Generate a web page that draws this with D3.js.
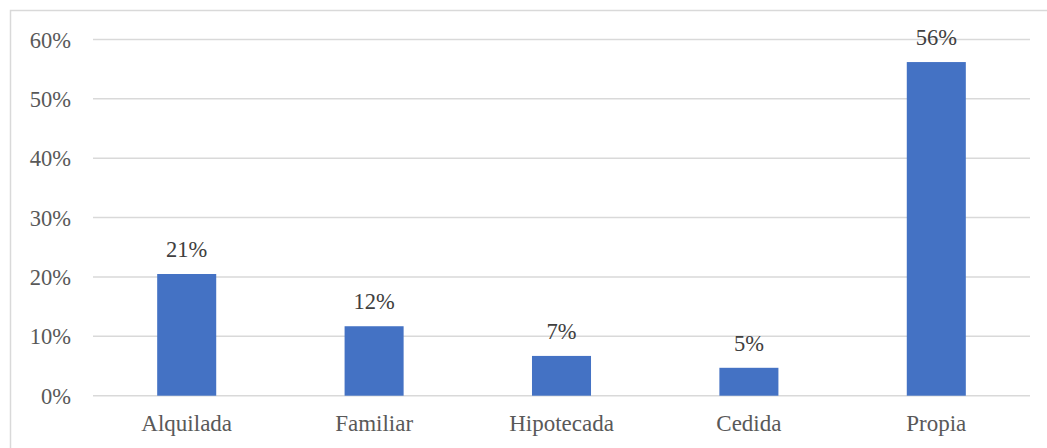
<!DOCTYPE html>
<html>
<head>
<meta charset="utf-8">
<script src="https://cdn.jsdelivr.net/npm/d3@7"></script>
<style>
html,body{margin:0;padding:0;background:#fff;}
svg{display:block;}
</style>
</head>
<body>
<svg id="chart" width="1047" height="448"></svg>
<script>
const categories = ["Alquilada", "Familiar", "Hipotecada", "Cedida", "Propia"];
const values = [0.205, 0.117, 0.067, 0.047, 0.562];
const valueLabels = ["21%", "12%", "7%", "5%", "56%"];
const yTicks = [0, 0.1, 0.2, 0.3, 0.4, 0.5, 0.6];

const svg = d3.select("#chart");
const W = 1047, H = 448;
const font = "'Liberation Serif', 'Times New Roman', serif";

// outer frame (top and left visible)
svg.append("rect")
  .attr("x", 10.5).attr("y", 10.5)
  .attr("width", W + 20).attr("height", H + 20)
  .attr("fill", "none").attr("stroke", "#d9d9d9").attr("stroke-width", 1.5);

const x = d3.scaleBand().domain(categories).range([93, 1030])
  .paddingInner(0.685).paddingOuter(0.3425);
const y = d3.scaleLinear().domain([0, 0.6]).range([395.7, 39.5]);

// gridlines
svg.append("g").selectAll("line").data(yTicks).join("line")
  .attr("x1", 93).attr("x2", 1030)
  .attr("y1", d => y(d)).attr("y2", d => y(d))
  .attr("stroke", "#d9d9d9").attr("stroke-width", 1.5);

// y axis labels
const yAxis = d3.axisLeft(y).tickValues(yTicks).tickFormat(d3.format(".0%")).tickSize(0).tickPadding(0);
const gy = svg.append("g").attr("transform", "translate(71,0)").call(yAxis);
gy.select(".domain").remove();
gy.selectAll("text")
  .attr("font-family", font).attr("font-size", 22.5).attr("fill", "#595959")
  .attr("dy", "0.34em");

// bars
svg.append("g").selectAll("rect").data(categories).join("rect")
  .attr("x", d => x(d))
  .attr("width", x.bandwidth())
  .attr("y", (d, i) => y(values[i]))
  .attr("height", (d, i) => y(0) - y(values[i]))
  .attr("fill", "#4472c4");

// value labels
svg.append("g").selectAll("text").data(categories).join("text")
  .attr("x", d => x(d) + x.bandwidth() / 2)
  .attr("y", (d, i) => y(values[i]) - 17)
  .attr("text-anchor", "middle")
  .attr("font-family", font).attr("font-size", 22.5).attr("fill", "#404040")
  .text((d, i) => valueLabels[i]);

// x axis labels
const xAxis = d3.axisBottom(x).tickSize(0).tickPadding(0);
const gx = svg.append("g").attr("transform", "translate(0,431)").call(xAxis);
gx.select(".domain").remove();
gx.selectAll("text")
  .attr("font-family", font).attr("font-size", 23).attr("fill", "#595959")
  .attr("dy", 0).attr("y", 0);
</script>
</body>
</html>
